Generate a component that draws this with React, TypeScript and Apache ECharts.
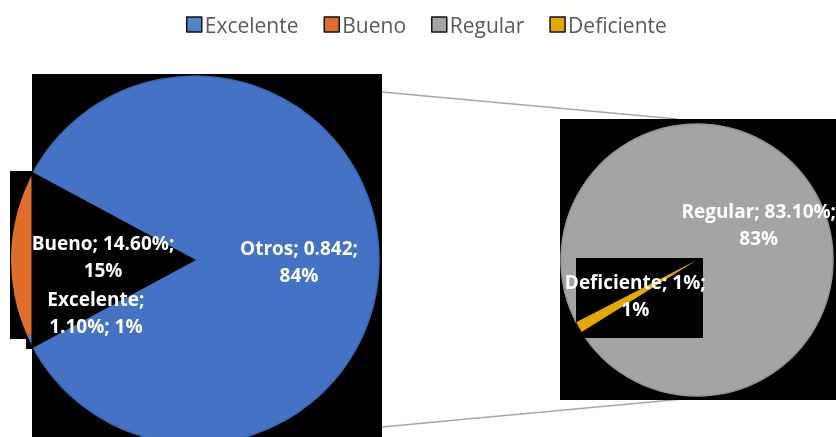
import React, { useEffect, useRef } from "react";
import * as echarts from "echarts";

// ---- data ----
const categories = ["Excelente", "Bueno", "Regular", "Deficiente"];
const shares = [0.011, 0.146, 0.831, 0.011];
const shareTexts = ["1.10%", "14.60%", "83.10%", "1%"];
const otherName = "Otros";
// secondary pie holds Regular + Deficiente
const secondaryNames = ["Regular", "Deficiente"];

// ---- style ----
const colorOf: Record<string, string> = {
  Excelente: "#4F86C6",
  Bueno: "#DE6E2C",
  Regular: "#A4A4A4",
  Deficiente: "#E5A800",
  Otros: "#4472C4",
};
const FONT = "'Open Sans', 'Noto Sans', sans-serif";

export default function App() {
  const ref = useRef<HTMLDivElement>(null);

  useEffect(() => {
    if (!ref.current) return;
    const chart = echarts.init(ref.current, null, { renderer: "svg" });

    const total = shares.reduce((a, b) => a + b, 0);
    const idx = (n: string) => categories.indexOf(n);
    const otherValue =
      Math.round(secondaryNames.reduce((a, n) => a + shares[idx(n)], 0) * 1000) / 1000;
    const pct = (v: number) => Math.round((v / total) * 100) + "%";

    const labelText = (name: string, v: number) => {
      if (name === otherName) return `${name}; ${otherValue};\n${pct(v)}`;
      const t = shareTexts[idx(name)];
      if (name === "Excelente") return `${name};\n${t}; ${pct(v)}`;
      return `${name}; ${t};\n${pct(v)}`;
    };

    // primary pie: Otros, Excelente, Bueno
    const primary = [
      { name: otherName, value: otherValue },
      { name: "Excelente", value: shares[idx("Excelente")] },
      { name: "Bueno", value: shares[idx("Bueno")] },
    ];
    // secondary pie: Deficiente, Regular
    const secondary = [
      { name: "Deficiente", value: shares[idx("Deficiente")] },
      { name: "Regular", value: shares[idx("Regular")] },
    ];

    const C1 = [195, 260];
    const R1 = 184;
    const start1 = 151.75;
    const C2 = [697, 260];
    const R2 = 136;
    const start2 = 212;

    const total1 = primary.reduce((a, d) => a + d.value, 0);
    const wedgeDeg = ((total1 - otherValue) / total1) * 360;
    const edgeX = 32;
    const edgePt = (deg: number) => {
      const a = (deg * Math.PI) / 180;
      const t = (edgeX - C1[0]) / Math.cos(a);
      return [C1[0] + t * Math.cos(a), C1[1] - t * Math.sin(a)];
    };
    const triangle = [C1, edgePt(start1), edgePt(start1 + wedgeDeg)];

    const labelOffsets: Record<string, number[]> = {
      Otros: [9, 2],
      Excelente: [-14, 10],
      Bueno: [3, 0],
    };

    const labelStyle = {
      show: true,
      position: "inside",
      color: "#FFFFFF",
      fontWeight: "bold",
      fontSize: 19,
      lineHeight: 27,
      fontFamily: FONT,
    };

    const option: any = {
      animation: false,
      legend: {
        data: categories,
        top: 9,
        left: 181,
        icon: "rect",
        itemWidth: 15,
        itemHeight: 15,
        itemGap: 25,
        itemStyle: { borderColor: "#111", borderWidth: 1.5 },
        textStyle: { color: "#595959", fontSize: 21, fontFamily: FONT, padding: [0, 0, 0, -2] },
      },
      graphic: [
        { type: "line", z: 0, shape: { x1: 382, y1: 92, x2: 677, y2: 119 }, style: { stroke: "#A6A6A6", lineWidth: 1.5 } },
        { type: "line", z: 0, shape: { x1: 382, y1: 427, x2: 683, y2: 399 }, style: { stroke: "#A6A6A6", lineWidth: 1.5 } },
        { type: "rect", z: 0, shape: { x: 32, y: 74, width: 350, height: 363 }, style: { fill: "#000" } },
        { type: "rect", z: 0, shape: { x: 10, y: 171, width: 22, height: 168 }, style: { fill: "#000" } },
        { type: "rect", z: 0, shape: { x: 26, y: 339, width: 6, height: 10 }, style: { fill: "#000" } },
        { type: "rect", z: 0, shape: { x: 560, y: 119, width: 276, height: 281 }, style: { fill: "#000" } },
        { type: "polygon", z: 3, shape: { points: triangle }, style: { fill: "#000", stroke: "#000", lineWidth: 1 } },
        { type: "rect", z: 3, shape: { x: 576, y: 258, width: 127, height: 80 }, style: { fill: "#000" } },
      ],
      series: [
        {
          type: "pie",
          z: 2,
          silent: true,
          center: C1,
          radius: R1,
          startAngle: start1,
          clockwise: true,
          label: { show: false },
          labelLine: { show: false },
          emphasis: { disabled: true },
          data: primary.map((d) => ({
            ...d,
            itemStyle: {
              color: colorOf[d.name],
              borderColor: d.name === otherName ? "#3B64AE" : colorOf[d.name],
              borderWidth: d.name === otherName ? 1.5 : 0,
            },
          })),
        },
        {
          type: "pie",
          z: 2,
          silent: true,
          center: C2,
          radius: R2,
          startAngle: start2,
          clockwise: true,
          label: { show: false },
          labelLine: { show: false },
          emphasis: { disabled: true },
          data: secondary.map((d) => ({
            ...d,
            itemStyle: {
              color: colorOf[d.name],
              borderColor: d.name === "Regular" ? "#939393" : colorOf[d.name],
              borderWidth: d.name === "Regular" ? 1.5 : 0,
            },
          })),
        },
        {
          type: "pie",
          z: 5,
          silent: true,
          center: C1,
          radius: R1,
          startAngle: start1,
          clockwise: true,
          label: { ...labelStyle, formatter: (p: any) => labelText(p.name, p.value) },
          labelLine: { show: false },
          emphasis: { disabled: true },
          data: primary.map((d) => ({
            ...d,
            itemStyle: { color: "rgba(0,0,0,0)" },
            label: { offset: labelOffsets[d.name] || [0, 0] },
          })),
        },
        {
          type: "pie",
          z: 5,
          silent: true,
          center: C2,
          radius: R2,
          startAngle: start2,
          clockwise: true,
          label: { ...labelStyle, formatter: (p: any) => labelText(p.name, p.value) },
          labelLine: { show: false },
          emphasis: { disabled: true },
          data: secondary.map((d) => ({
            ...d,
            itemStyle: { color: d.name === "Deficiente" ? colorOf[d.name] : "rgba(0,0,0,0)" },
          })),
        },
      ],
    };

    chart.setOption(option);
    return () => chart.dispose();
  }, []);

  return (
    <div
      ref={ref}
      style={{ position: "fixed", left: 0, top: 0, width: 836, height: 437 }}
    />
  );
}
